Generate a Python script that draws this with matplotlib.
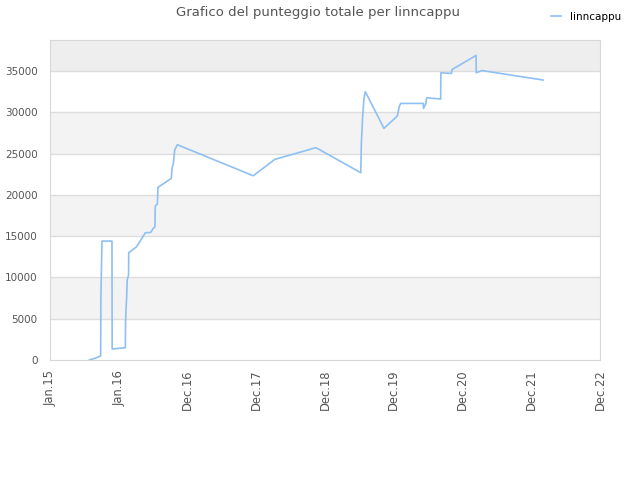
import matplotlib
matplotlib.use('Agg')
import matplotlib.pyplot as plt
import matplotlib.dates as mdates
import numpy as np
import datetime as dt

# score history
dates = ['2015-07-29', '2015-09-02', '2015-09-27', '2015-09-28', '2015-10-04',
         '2015-11-26', '2015-11-27', '2016-02-05', '2016-02-06', '2016-02-08',
         '2016-02-12', '2016-02-15', '2016-02-22', '2016-02-23', '2016-04-05',
         '2016-05-21', '2016-06-19', '2016-07-02', '2016-07-11', '2016-07-13',
         '2016-07-24', '2016-07-27', '2016-08-28', '2016-10-06', '2016-10-10',
         '2016-10-17', '2016-10-24', '2016-11-07', '2017-12-15', '2018-04-08',
         '2018-11-13', '2019-07-09', '2019-07-12', '2019-07-19', '2019-07-26',
         '2019-08-02', '2019-11-09', '2020-01-19', '2020-01-29', '2020-02-06',
         '2020-06-05', '2020-06-06', '2020-06-19', '2020-06-23', '2020-09-05',
         '2020-09-06', '2020-11-01', '2020-11-04', '2021-03-12', '2021-03-13',
         '2021-04-12', '2022-03-04']
scores = [0, 250, 500, 7350, 14400,
          14400, 1330, 1490, 4440, 5850,
          7670, 9690, 10290, 12990, 13720,
          15410, 15450, 15940, 16100, 18640,
          18890, 20910, 21390, 21990, 23200,
          23810, 25420, 26070, 22310, 24290,
          25710, 22680, 26230, 29540, 31680,
          32490, 28050, 29540, 30670, 31070,
          31070, 30460, 31070, 31760, 31600,
          34780, 34700, 35170, 36880, 34780,
          35050, 33900]
player = 'linncappu'

x = [dt.datetime.strptime(d, '%Y-%m-%d') for d in dates]
start = dt.datetime(2015, 1, 1)
ticks = [start + dt.timedelta(days=365 * k) for k in range(9)]

fig = plt.figure(figsize=(6.4, 4.8), dpi=100)
ax = fig.add_axes([50 / 640, 120 / 480, 550 / 640, 320 / 480])

ymax = 38750
# alternating bands
for i, lo in enumerate(range(0, 40000, 5000)):
    if i % 2 == 1:
        c = '#eeeeee' if lo >= 35000 else '#f3f3f3'
        ax.axhspan(lo, min(lo + 5000, ymax), color=c, zorder=0, lw=0)
for v in range(5000, 40000, 5000):
    ax.axhline(v, color='#dddddd', lw=1, zorder=1)

ax.plot(x, scores, color='#8ec0f3', lw=1.2, label=player, zorder=3)

ax.set_xlim(ticks[0], ticks[-1])
ax.set_ylim(0, ymax)
ax.set_xticks(ticks)
ax.xaxis.set_major_formatter(mdates.DateFormatter('%b.%y'))
ax.set_yticks(range(0, 40000, 5000))
ax.tick_params(axis='y', length=0, labelsize=7.5, colors='#555555', pad=9)
ax.tick_params(axis='x', length=0, labelsize=8.3, colors='#555555', pad=7)
plt.setp(ax.get_xticklabels(), rotation=90)
for s in ax.spines.values():
    s.set_color('#d8d8d8')

fig.suptitle('Grafico del punteggio totale per linncappu', x=0.497, y=0.988,
             fontsize=9.5, color='#555555')
fig.legend(loc='upper right', bbox_to_anchor=(0.985, 0.995), frameon=False,
           fontsize=7.5, handlelength=1.0, handletextpad=0.8)

fig.savefig('out.png', dpi=100)
